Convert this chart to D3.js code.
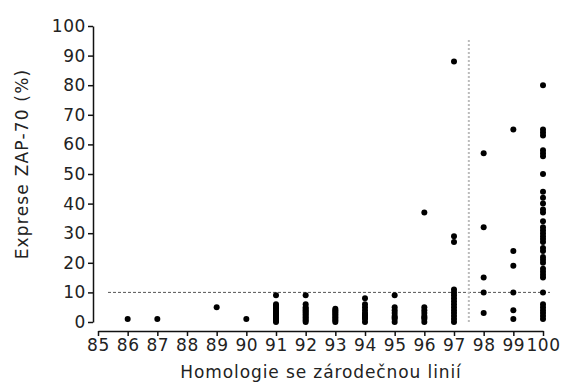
<!DOCTYPE html>
<meta charset="utf-8">
<style>
body { margin: 0; background: #fff; }
svg text { font-family: "DejaVu Sans", Verdana, sans-serif; fill: #222; }
</style>
<body>
<div id="chart"></div>
<script src="https://d3js.org/d3.v7.min.js"></script>
<script>

var width = 565,
    height = 385;

// homology (%) of each group, and the ZAP-70 expression values
var homology = [86, 87, 89, 90, 91, 92, 93, 94, 95, 96, 97, 98, 99, 100];
var zap70 = [
    [1],
    [1],
    [5],
    [1],
    [0, 0.5, 1, 1.5, 2, 2.5, 3, 3.5, 4, 4.5, 5, 5.5, 6, 9],
    [0, 0.5, 1, 1.5, 2, 2.5, 3, 3.5, 4, 4.5, 5, 6, 9],
    [0, 0.5, 1, 1.5, 2, 2.5, 3, 3.5, 4, 4.5],
    [0, 1, 1.5, 2, 2.5, 3, 4, 5, 6, 8],
    [0, 1, 1.5, 2, 3, 4, 5, 9],
    [0, 1, 1.5, 2, 3, 4, 5, 37],
    [0, 1, 2, 3, 4, 5, 6, 7, 8, 9, 10, 11, 27, 29, 88],
    [3, 10, 15, 32, 57],
    [1, 4, 10, 19, 24, 65],
    [1, 2, 3, 4, 5, 6, 10, 15, 16, 17, 18, 20, 21, 22, 24, 25, 27, 28, 29, 30,
     31, 32, 34, 37, 38, 40, 42, 44, 50, 56, 57, 58, 63, 64, 65, 80]
];
var xTicks = d3.range(85, 101);
var yTicks = d3.range(0, 101, 10);
var cutoffExpr = 10,
    cutoffHomology = 97.5;

var x = d3.scaleLinear().domain([85, 100]).range([98, 543]);
var y = d3.scaleLinear().domain([0, 100]).range([322, 26]);

var svg = d3.select("#chart").append("svg")
    .attr("width", width)
    .attr("height", height);

// cut-off lines
svg.append("line")
    .attr("x1", 108).attr("x2", 550)
    .attr("y1", y(cutoffExpr)).attr("y2", y(cutoffExpr))
    .attr("stroke", "#555")
    .attr("stroke-width", 1)
    .attr("stroke-dasharray", "3,2");

svg.append("line")
    .attr("x1", x(cutoffHomology)).attr("x2", x(cutoffHomology))
    .attr("y1", 40).attr("y2", y(0))
    .attr("stroke", "#bbb")
    .attr("stroke-width", 2)
    .attr("stroke-dasharray", "2,2");

// points
var points = [];
homology.forEach(function(h, i) {
    zap70[i].forEach(function(v) { points.push({h: h, v: v}); });
});

svg.append("g").selectAll("circle")
    .data(points)
    .enter().append("circle")
    .attr("cx", function(d) { return x(d.h); })
    .attr("cy", function(d) { return y(d.v); })
    .attr("r", 3)
    .attr("fill", "#000");

// axes
var yAxis = svg.append("g")
    .attr("transform", "translate(93,0)")
    .call(d3.axisLeft(y).tickValues(yTicks).tickSize(5).tickSizeOuter(0).tickPadding(2));

var xAxis = svg.append("g")
    .attr("transform", "translate(0,331)")
    .call(d3.axisBottom(x).tickValues(xTicks).tickSize(5).tickSizeOuter(0).tickPadding(3));

[xAxis, yAxis].forEach(function(g) {
    g.selectAll(".domain, line").attr("stroke", "#111").attr("stroke-width", 1.5);
    g.selectAll("text")
        .attr("fill", "#222")
        .style("font-family", '"DejaVu Sans", Verdana, sans-serif')
        .style("font-size", "17px")
        .style("letter-spacing", "0.6px");
});

svg.append("text")
    .attr("x", 321)
    .attr("y", 378)
    .attr("text-anchor", "middle")
    .style("font-size", "17px")
    .style("letter-spacing", "0.9px")
    .text("Homologie se zárodečnou linií");

svg.append("text")
    .attr("transform", "translate(28,164) rotate(-90)")
    .attr("text-anchor", "middle")
    .style("font-size", "17px")
    .style("letter-spacing", "1.2px")
    .text("Exprese ZAP-70 (%)");

</script>
